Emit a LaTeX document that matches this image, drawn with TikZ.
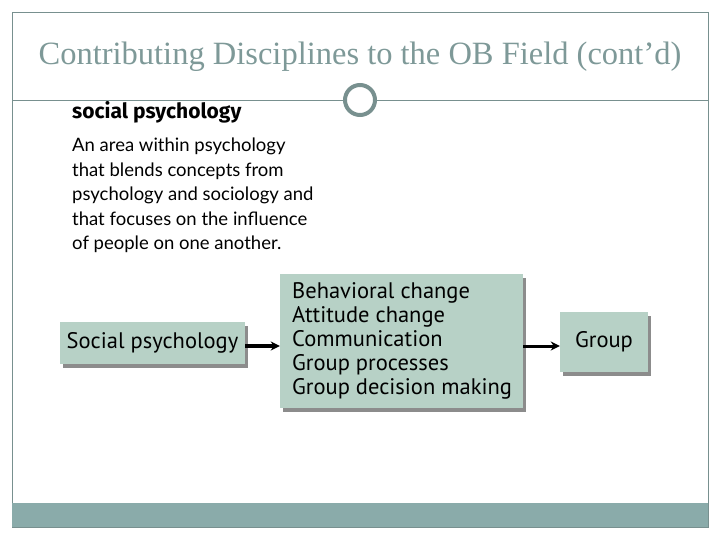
\documentclass[tikz,border=0pt]{standalone}
\usepackage{fontspec}
\setmainfont{Liberation Serif}
\newfontfamily\defnfont{Lato}
\newfontfamily\boldfont{Fira Sans}
\newfontfamily\boxfont{PT Sans}
\usepackage{xcolor}
\usetikzlibrary{shadows, arrows.meta, positioning}
\definecolor{obTitle}{RGB}{126,153,152}
\definecolor{obLine}{RGB}{120,144,143}
\definecolor{obBand}{RGB}{138,171,170}
\definecolor{obBox}{RGB}{183,209,198}

\begin{document}
\begin{tikzpicture}[x=1pt, y=-1pt,
  panel/.style={
    fill=obBox, inner sep=0pt,
    drop shadow={shadow xshift=3pt, shadow yshift=-4pt, fill=black, opacity=0.45}
  },
  flow/.style={-{Stealth[length=9pt, width=9pt]}, line width=3.5pt}
]
\useasboundingbox (0,0) rectangle (720,540);

% slide frame
\draw[obLine, line width=0.8pt] (12,12) rectangle (708,527);
\fill[obBand] (12,503) rectangle (708,527);
\node[circle, draw=obLine, line width=4pt, minimum size=30pt, inner sep=0pt] (ring) at (360,100) {};
\draw[obLine, line width=0.8pt] (12,100) -- (ring.west);
\draw[obLine, line width=0.8pt] (ring.east) -- (708,100);

\node[text=obTitle, font=\fontsize{32.5}{36}\selectfont] (title) at (360,57)
  {Contributing Disciplines to the OB Field (cont’d)};

% definition
\node[anchor=north west, inner sep=0pt, font=\boldfont\bfseries\fontsize{21}{24}\selectfont] (term) at (72,101)
  {social psychology};
\node[anchor=north west, inner sep=0pt, align=left, font=\defnfont\fontsize{18.5}{24.5}\selectfont] (defn) at (72,138)
  {An area within psychology\\ that blends concepts from\\ psychology and sociology and\\ that focuses on the influence\\ of people on one another.};

% diagram
\node[panel, minimum width=185pt, minimum height=42pt, font=\boxfont\fontsize{22.5}{24}\selectfont] (soc) at (152.5,343)
  {Social psychology};
\node[panel, minimum width=243pt, minimum height=134pt] (mid) at (401.5,341) {};
\node[anchor=north west, inner sep=0pt, align=left, font=\boxfont\fontsize{22.5}{24.2}\selectfont] (topics) at (292,282)
  {Behavioral change\\ Attitude change\\ Communication\\ Group processes\\ Group decision making};
\node[panel, minimum width=88pt, minimum height=60pt, font=\boxfont\fontsize{22.5}{24}\selectfont] (grp) at (604,342)
  {Group};

\draw[flow] ([yshift=-3pt]soc.east) -- ([yshift=-3pt]soc.east -| mid.west);
\draw[flow, line width=3pt] ([yshift=-4pt]mid.east |- grp.west) -- ([yshift=-4pt]grp.west);
\end{tikzpicture}
\end{document}
